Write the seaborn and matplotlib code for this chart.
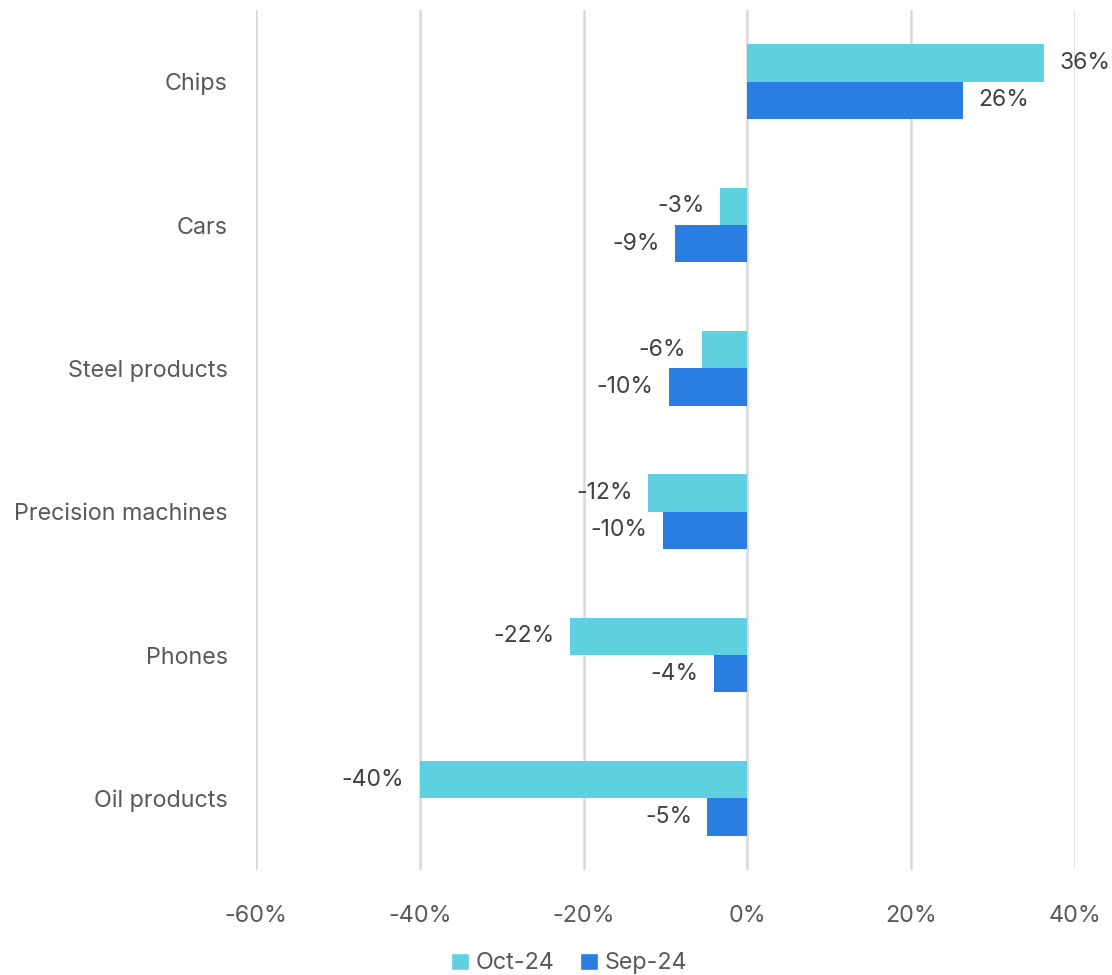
import matplotlib
matplotlib.use("Agg")
import matplotlib.pyplot as plt
import seaborn as sns
import pandas as pd
from matplotlib.patches import Patch

categories = ["Chips", "Cars", "Steel products", "Precision machines", "Phones", "Oil products"]
oct_24 = [36.2, -3.3, -5.6, -12.1, -21.7, -40.0]
sep_24 = [26.3, -8.8, -9.6, -10.3, -4.1, -4.9]
series = ["Oct-24", "Sep-24"]
xticks = [-60, -40, -20, 0, 20, 40]

df = pd.DataFrame({
    "category": categories * 2,
    "value": oct_24 + sep_24,
    "series": [series[0]] * len(categories) + [series[1]] * len(categories),
})

sns.set_style("white")
plt.rcParams["font.family"] = ["Inter", "DejaVu Sans"]

fig = plt.figure(figsize=(11.12, 9.75), dpi=100)
ax = fig.add_axes([0.230, 0.1077, 0.737, 0.882])

palette = {"Oct-24": "#5FD0DF", "Sep-24": "#2A7DE1"}
sns.barplot(data=df, y="category", x="value", hue="series", order=categories,
            hue_order=series, palette=palette, orient="h", width=0.52,
            saturation=1, ax=ax, legend=False, zorder=3, linewidth=0)

for cont in ax.containers:
    ax.bar_label(cont, labels=[f"{round(v.get_width()):d}%" for v in cont],
                 padding=11, fontsize=16.5, color="#404040")

ax.set_xlim(-60, 40)
ax.set_ylim(5.5, -0.5)
ax.set_xticks(xticks)
ax.set_xticklabels([f"{t}%" for t in xticks])
ax.grid(axis="x", color="#d9d9d9", linewidth=1.8, zorder=0)
ax.grid(axis="y", visible=False)
for s in ax.spines.values():
    s.set_visible(False)
ax.tick_params(axis="x", length=0, pad=25, labelsize=16.8, labelcolor="#595959")
ax.tick_params(axis="y", length=0, pad=20, labelsize=16.8, labelcolor="#595959")
ax.set_xlabel("")
ax.set_ylabel("")

handles = [Patch(facecolor=palette[s], label=s) for s in series]
fig.legend(handles=handles, loc="center", bbox_to_anchor=(0.512, 0.012), ncol=2,
           frameon=False, fontsize=16.8, handlelength=0.75, handleheight=0.75,
           handletextpad=0.3, columnspacing=1.1, labelcolor="#595959")

fig.savefig("out.png", dpi=100)
